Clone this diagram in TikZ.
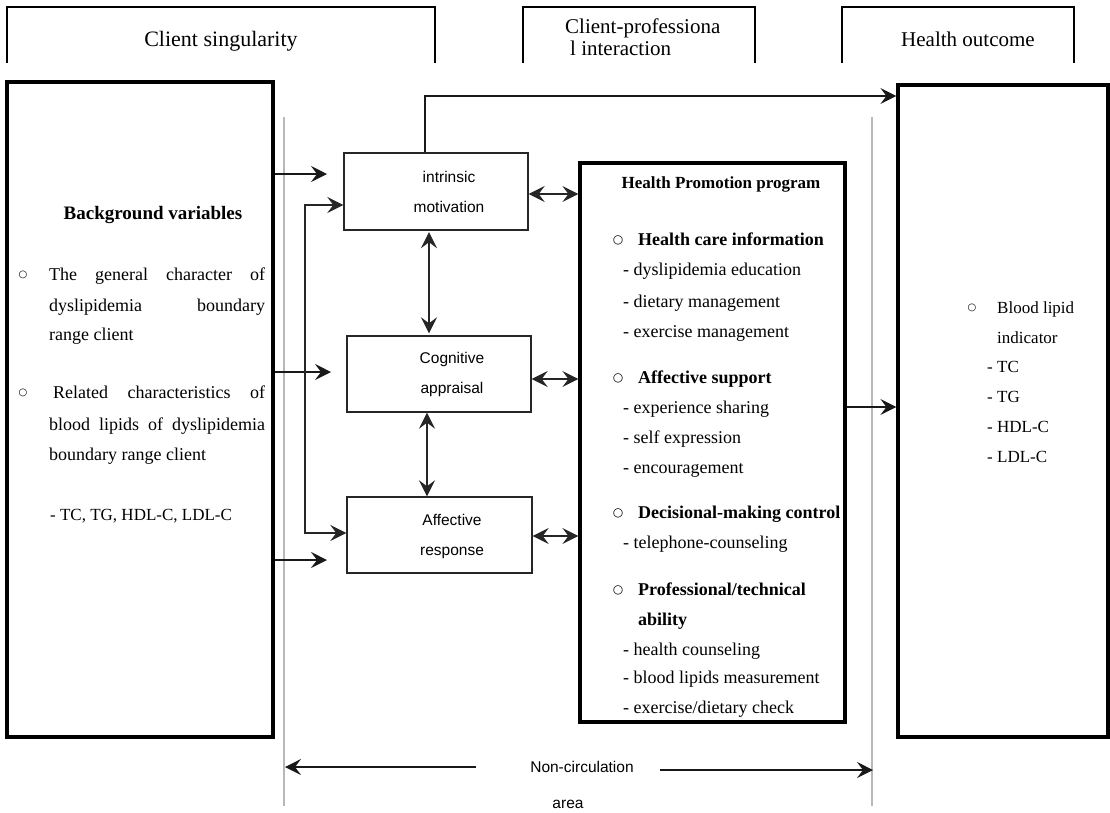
\documentclass[tikz,border=0pt]{standalone}
\usepackage{fontspec}
\setmainfont{Liberation Serif}
\setsansfont{Liberation Sans}
\newfontfamily\symfnt{DejaVu Sans}
\usetikzlibrary{arrows.meta}
\newcommand\myfs[2]{\fontsize{#1}{#2}\selectfont}
\begin{document}
\begin{tikzpicture}[x=1pt,y=-1pt,
  hdrline/.style={line width=2.2pt},
  bigbox/.style={draw=black, line width=3.2pt, inner sep=0pt},
  midbox/.style={draw=black!85, line width=1.4pt, inner sep=0pt},
  guide/.style={draw=black!28, line width=1.4pt},
  myarr/.tip={Stealth[length=16pt,width=16pt,inset=6pt]},
  conn/.style={draw=black!90, line width=1.3pt, -myarr},
  dconn/.style={draw=black!85, line width=1.3pt, myarr-myarr},
  txt/.style={inner sep=0pt, anchor=base west, font=\myfs{18}{22}},
  rtxt/.style={inner sep=0pt, anchor=base west, font=\myfs{17}{22}},
  bold/.style={inner sep=0pt, anchor=base west, font=\bfseries\myfs{18}{22}},
  sans/.style={inner sep=0pt, font=\sffamily\myfs{15.5}{30}, align=center},
  bul/.style={inner sep=0pt, font=\symfnt\myfs{10}{10}},
  bbul/.style={inner sep=0pt, font=\symfnt\bfseries\myfs{12}{12}}]

\useasboundingbox (0,0) rectangle (1110,812);
\fill[white] (0,0) rectangle (1110,812);

% header boxes (open at the bottom)
\draw[hdrline] (7,63) |- (435,7) -- (435,63);
\draw[hdrline] (523,63) |- (755,7) -- (755,63);
\draw[hdrline] (842,63) |- (1074,7) -- (1074,63);
\node[inner sep=0pt, anchor=base, font=\myfs{22}{22}] (h1) at (221,46) {Client singularity};
\node[inner sep=0pt, anchor=base west, font=\myfs{21}{21}] (h2a) at (565,33) {Client-professiona};
\node[inner sep=0pt, anchor=base west, font=\myfs{21}{21}] (h2b) at (570,55) {l interaction};
\node[inner sep=0pt, anchor=base, font=\myfs{21}{21}] (h3) at (968,46) {Health outcome};

% guide lines
\coordinate (gLt) at (284,117); \coordinate (gLb) at (284,806);
\coordinate (gRt) at (872,117); \coordinate (gRb) at (872,806);
\draw[guide] (gLt) -- (gLb);
\draw[guide] (gRt) -- (gRb);

% main boxes
\node[bigbox, minimum width=266pt, minimum height=655pt] (bg) at (140,409.5) {};
\node[midbox, minimum width=184pt, minimum height=77pt] (im) at (436,191.5) {};
\node[midbox, minimum width=184pt, minimum height=76pt] (ca) at (439,374) {};
\node[midbox, minimum width=185pt, minimum height=76pt] (ar) at (439.5,535) {};
\node[bigbox, minimum width=265pt, minimum height=559pt] (hp) at (712.5,442.5) {};
\node[bigbox, minimum width=210pt, minimum height=652pt] (out) at (1003,411) {};

% middle box texts
\node[sans] (imt) at (449,192) {intrinsic\\motivation};
\node[sans] (cat) at (452,374.5) {Cognitive\\appraisal};
\node[sans] (art) at (452,536) {Affective\\response};

% background variables
\node[inner sep=0pt, anchor=base, font=\bfseries\myfs{19}{22}] (bgt) at (153,219) {Background variables};
\node[bul] (bb1) at (23,275) {○};
\node[txt] (bl1) at (49,280) {\makebox[216pt][s]{The general character of}};
\node[txt] (bl2) at (49,311) {\makebox[216pt][s]{dyslipidemia boundary}};
\node[txt] (bl3) at (49,340) {range client};
\node[bul] (bb2) at (23,393) {○};
\node[txt] (bl4) at (53,398) {\makebox[212pt][s]{Related characteristics of}};
\node[txt] (bl5) at (49,430) {\makebox[216pt][s]{blood lipids of dyslipidemia}};
\node[txt] (bl6) at (49,460) {boundary range client};
\node[inner sep=0pt, anchor=base west, font=\myfs{17}{22}] (bl7) at (50,520) {- TC, TG, HDL-C, LDL-C};

% health promotion program
\node[inner sep=0pt, anchor=base, font=\bfseries\myfs{17}{17}] (hpt) at (721,188) {Health Promotion program};
\node[bbul] (hb1) at (618,240) {○};
\node[bold] (hh1) at (638,245) {Health care information};
\node[txt] (hi1) at (623,275) {- dyslipidemia education};
\node[txt] (hi2) at (623,307) {- dietary management};
\node[txt] (hi3) at (623,337) {- exercise management};
\node[bbul] (hb2) at (618,378) {○};
\node[bold] (hh2) at (638,383) {Affective support};
\node[txt] (hi4) at (623,413) {- experience sharing};
\node[txt] (hi5) at (623,443) {- self expression};
\node[txt] (hi6) at (623,473) {- encouragement};
\node[bbul] (hb3) at (618,513) {○};
\node[bold] (hh3) at (638,518) {Decisional-making control};
\node[txt] (hi7) at (623,548) {- telephone-counseling};
\node[bbul] (hb4) at (618,590) {○};
\node[bold] (hh4) at (638,595) {Professional/technical};
\node[bold] (hh4b) at (638,625) {ability};
\node[txt] (hi8) at (623,655) {- health counseling};
\node[txt] (hi9) at (623,683) {- blood lipids measurement};
\node[txt] (hi10) at (623,713) {- exercise/dietary check};

% health outcome box
\node[bul] (ob) at (972,308) {○};
\node[rtxt] (ot1) at (997,313) {Blood lipid};
\node[rtxt] (ot2) at (997,343) {indicator};
\node[rtxt] (ot3) at (987,372) {- TC};
\node[rtxt] (ot4) at (987,402) {- TG};
\node[rtxt] (ot5) at (987,432) {- HDL-C};
\node[rtxt] (ot6) at (987,462) {- LDL-C};

% connectors
\coordinate (a1) at (327,174);
\coordinate (a2) at (331,372);
\coordinate (a3) at (327,560);
\draw[conn] (bg.east |- a1) -- (a1);
\draw[conn] (bg.east |- a2) -- (a2);
\draw[conn] (bg.east |- a3) -- (a3);

\coordinate (f1) at (305,205);
\coordinate (f2) at (305,533);
\draw[dconn] (im.west |- f1) -- (f1) -- (f2) -- (ar.west |- f2);

\coordinate (t1) at (425,96);
\draw[conn] (im.north -| t1) -- (t1) -- (out.west |- t1);

\draw[dconn] ([yshift=-2.5pt]im.east) -- ([yshift=-2.5pt]im.east -| hp.west);
\draw[dconn] ([yshift=-5pt]ca.east) -- ([yshift=-5pt]ca.east -| hp.west);
\draw[dconn] ([yshift=-1pt]ar.east) -- ([yshift=-1pt]ar.east -| hp.west);

\coordinate (v1) at (429,0);
\coordinate (v2) at (427,0);
\draw[dconn, shorten <=1.5pt, shorten >=2pt] (im.south -| v1) -- (ca.north -| v1);
\draw[dconn] (ca.south -| v2) -- (ar.north -| v2);

\coordinate (o1) at (0,407);
\draw[conn] (hp.east |- o1) -- (out.west |- o1);

% non-circulation area
\node[sans] (nc1) at (582,767) {Non-circulation};
\node[sans] (nc2) at (568,804) {area};
\coordinate (nl) at (285,767);
\coordinate (nr) at (873,770);
\draw[conn] ([xshift=-54pt]nc1.west) -- (nl);
\draw[conn] ([xshift=26pt,yshift=-3pt]nc1.east) -- (nr);
\end{tikzpicture}
\end{document}
